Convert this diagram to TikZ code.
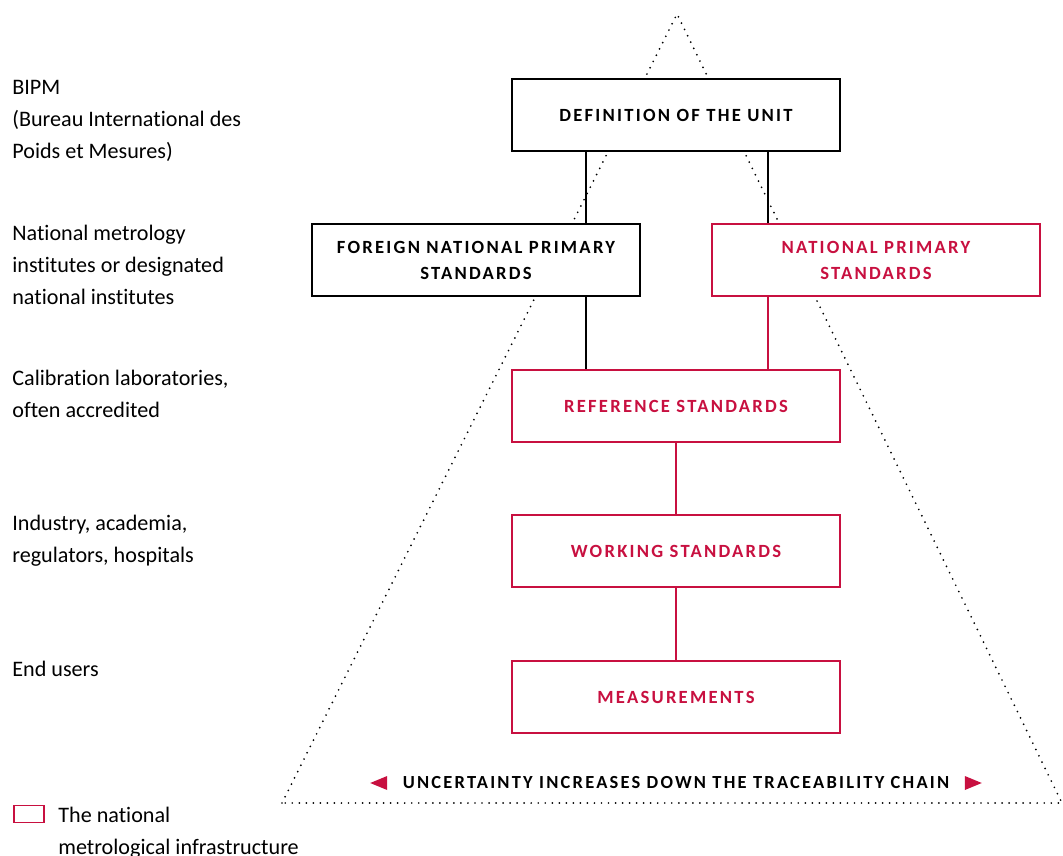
\documentclass[tikz,border=0pt]{standalone}
\usepackage{fontspec}
\setmainfont[Ligatures=CommonOff]{Carlito}
\newfontfamily\capsfont[LetterSpace=12]{Carlito}
\usetikzlibrary{positioning,shapes.geometric}
\definecolor{infra}{RGB}{200,16,64}

\begin{document}
\begin{tikzpicture}[x=0.02cm,y=-0.02cm]
\tikzstyle{level}=[rectangle, draw=black, line width=0.9pt, fill=white, minimum width=6.56cm, minimum height=1.44cm, align=center, inner sep=0pt, font=\capsfont\bfseries\fontsize{10.6}{14.8}\selectfont]
\tikzstyle{nat}=[level, draw=infra, text=infra]
\tikzstyle{tier}=[anchor=base west, align=left, inner sep=0pt, font=\fontsize{12.6}{18.2}\selectfont]
\tikzstyle{link}=[line width=0.9pt]
\tikzstyle{chain}=[dash pattern=on 0pt off 4pt, line cap=round, line width=1.1pt]
  \useasboundingbox (0,0) rectangle (1063,856);
  % pyramid
  \coordinate (top) at (677,14);
  \coordinate (bl) at (282,803);
  \coordinate (br) at (1062,803);
  \draw[chain] (bl) -- (top) -- (br) -- cycle;
  % boxes
  \node[level] (def) at (676,115) {DEFINITION OF THE UNIT};
  \node[level] (fnps) at (476,260) {FOREIGN NATIONAL PRIMARY\\STANDARDS};
  \node[nat] (nps) at (876,260) {NATIONAL PRIMARY\\STANDARDS};
  \node[nat] (ref) at (676,406) {REFERENCE STANDARDS};
  \node[nat] (work) at (676,551) {WORKING STANDARDS};
  \node[nat] (meas) at (676,697) {MEASUREMENTS};
  \coordinate (c1) at (586,0);
  \coordinate (c2) at (768,0);
  \draw[link] (def.south -| c1) -- (fnps.north -| c1);
  \draw[link] (def.south -| c2) -- (nps.north -| c2);
  \draw[link] (fnps.south -| c1) -- (ref.north -| c1);
  \draw[link, infra] (nps.south -| c2) -- (ref.north -| c2);
  \draw[link, infra] (ref) -- (work);
  \draw[link, infra] (work) -- (meas);
  % uncertainty label
  \node[font=\capsfont\bfseries\fontsize{10.5}{12}\selectfont, inner sep=0pt] (unc) at (676,783) {UNCERTAINTY INCREASES DOWN THE TRACEABILITY CHAIN};
  \node[isosceles triangle, shape border rotate=180, fill=infra, inner sep=0pt, minimum height=0.26cm, minimum width=0.28cm, left=0.3cm of unc] (arrl) {};
  \node[isosceles triangle, fill=infra, inner sep=0pt, minimum height=0.26cm, minimum width=0.28cm, right=0.3cm of unc] (arrr) {};
  % left column (base = last line)
  \node[tier] (bipm) at (12,158) {BIPM\\(Bureau International des\\Poids et Mesures)};
  \node[tier] (nmi) at (12,304) {National metrology\\institutes or designated\\national institutes};
  \node[tier] (cal) at (12,417) {Calibration laboratories,\\often accredited};
  \node[tier] (ind) at (12,562) {Industry, academia,\\regulators, hospitals};
  \node[tier] (end) at (12,676) {End users};
  % legend
  \node[rectangle, draw=infra, line width=0.9pt, minimum width=0.6cm, minimum height=0.34cm, inner sep=0pt] (legbox) at (29,814) {};
  \node[tier] (legtext) at (58,854) {The national\\metrological infrastructure};
\end{tikzpicture}
\end{document}
